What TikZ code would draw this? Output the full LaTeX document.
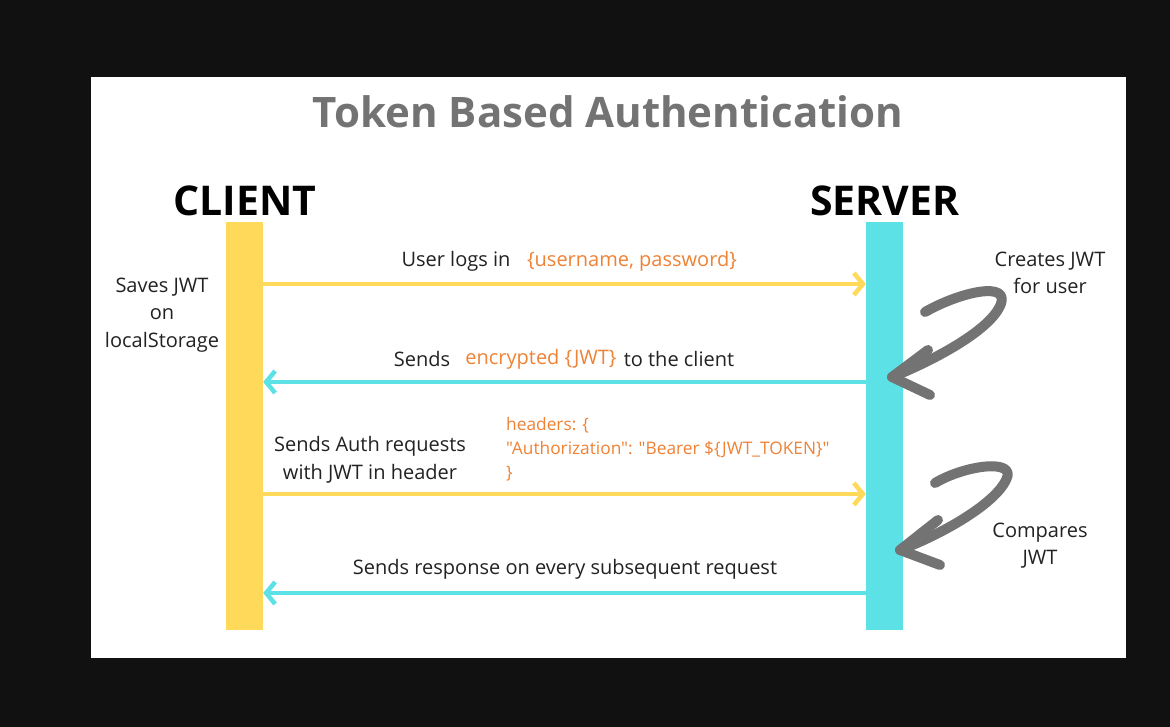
\documentclass[tikz,border=0pt]{standalone}
\usepackage{fontspec}
\setmainfont{Open Sans}
\newfontfamily\codefont{Open Sans}
\usetikzlibrary{arrows.meta}
\definecolor{bgdark}{HTML}{111111}
\definecolor{cyellow}{HTML}{FFD95A}
\definecolor{ccyan}{HTML}{5CE1E6}
\definecolor{corange}{HTML}{EF8235}
\definecolor{cgrey}{HTML}{737373}
\definecolor{ctext}{HTML}{222222}
\tikzset{
  lbl/.style={font=\fontsize{20}{24}\selectfont, text=ctext, inner sep=0pt},
  olbl/.style={font=\fontsize{20}{24}\selectfont, text=corange, inner sep=0pt},
  msg/.style={line width=4.5pt, -{Straight Barb[length=9pt,width=22pt,line width=4.5pt]}},
  lifeline/.style={minimum width=37pt, minimum height=408pt, inner sep=0pt, draw=none},
  curly/.style={line width=10pt, cgrey, line cap=round, line join=round},
}
\begin{document}
\begin{tikzpicture}[x=1pt,y=-1pt]
\useasboundingbox (0,0) rectangle (1170,727);
\fill[bgdark] (0,0) rectangle (1170,727);
\fill[white] (91,77) rectangle (1126,658);
% title
\node[font=\bfseries\fontsize{42}{46}\selectfont, text=cgrey, inner sep=0pt] (title) at (608,112) {Token Based Authentication};
\node[font=\bfseries\fontsize{41}{45}\selectfont, text=black, inner sep=0pt] (clientlbl) at (245,201) {CLIENT};
\node[font=\bfseries\fontsize{41}{45}\selectfont, text=black, inner sep=0pt] (serverlbl) at (885,201) {SERVER};
% lifelines
\node[lifeline, fill=cyellow, anchor=north] (client) at (244.5,222) {};
\node[lifeline, fill=ccyan, anchor=north] (server) at (884.5,222) {};
% messages
\coordinate (c1) at (client.east |- 0,284);
\coordinate (s1) at (server.west |- 0,284);
\draw[msg, cyellow] (c1) -- (s1);
\coordinate (s2) at (server.west |- 0,382);
\coordinate (c2) at (client.east |- 0,382);
\draw[msg, ccyan] (s2) -- (c2);
\coordinate (c3) at (client.east |- 0,494);
\coordinate (s3) at (server.west |- 0,494);
\draw[msg, cyellow] (c3) -- (s3);
\coordinate (s4) at (server.west |- 0,593);
\coordinate (c4) at (client.east |- 0,593);
\draw[msg, ccyan] (s4) -- (c4);
% labels
\node[lbl] (m1a) at (456,261) {User logs in};
\node[olbl] (m1b) at (632,261) {\{username, password\}};
\node[lbl] (m2a) at (422,359) {Sends};
\node[olbl] (m2b) at (541,359) {encrypted \{JWT\}};
\node[lbl] (m2c) at (679,359) {to the client};
\node[lbl, align=center, font=\fontsize{20}{28}\selectfont] (m3a) at (370,460) {Sends Auth requests\\with JWT in header};
\node[olbl, align=left, anchor=north west, font=\codefont\fontsize{17.3}{24}\selectfont] (m3b) at (506,417) {headers: \{\\"Authorization": "Bearer \$\{JWT\_TOKEN\}"\\\}};
\node[lbl] (m4) at (565,569) {Sends response on every subsequent request};
\node[lbl, align=center, font=\fontsize{20}{27.5}\selectfont] (save) at (162,315) {Saves JWT\\on\\localStorage};
\node[lbl, align=center, font=\fontsize{20}{27}\selectfont] (create) at (1050,273) {Creates JWT\\for user};
\node[lbl, align=center, font=\fontsize{20}{27}\selectfont] (compare) at (1040,546) {Compares\\JWT};
% curly arrows
\coordinate (t1) at (892,377);
\draw[curly] (925,312) .. controls (960,292) and (1012,280) .. (1000,306) .. controls (988,332) and (930,362) .. (t1);
\draw[curly] (928,350) -- (t1) -- (930,395);
\coordinate (t2) at (900,550);
\draw[curly] (935,483) .. controls (965,465) and (1018,458) .. (1006,480) .. controls (994,505) and (940,535) .. (t2);
\draw[curly] (938,520) -- (t2) -- (940,565);
\end{tikzpicture}
\end{document}
